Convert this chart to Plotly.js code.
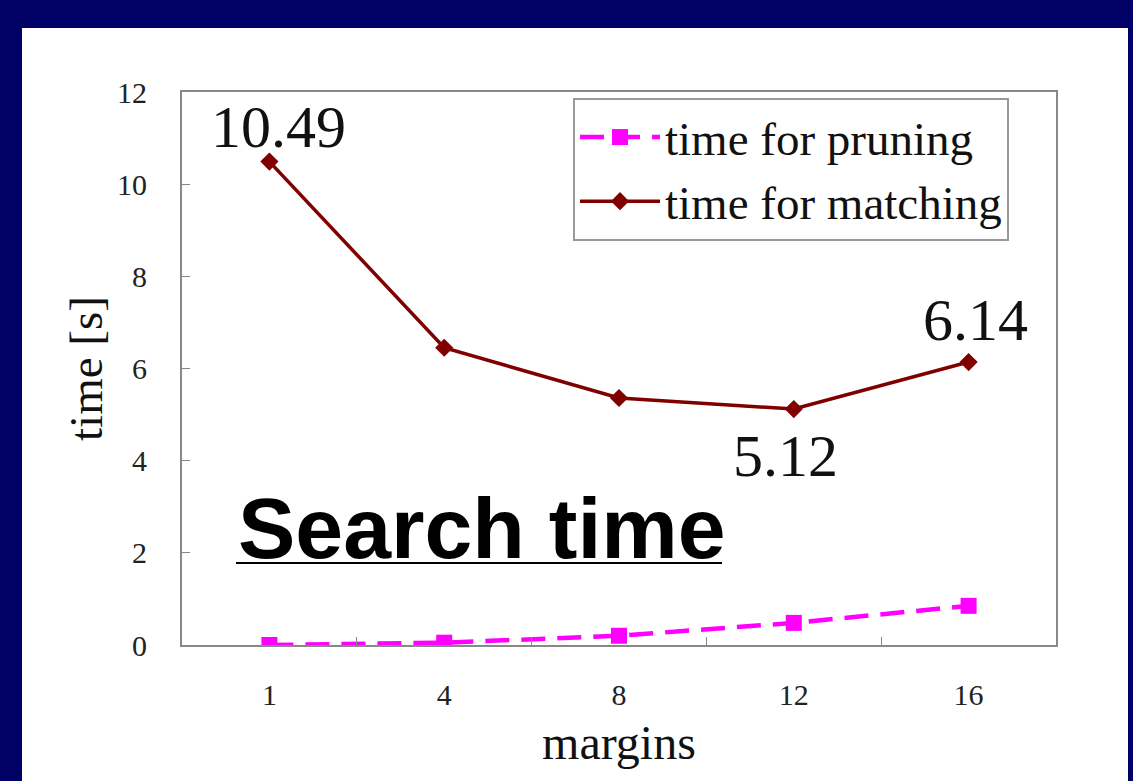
<!DOCTYPE html>
<html>
<head>
<meta charset="utf-8">
<script src="https://cdn.plot.ly/plotly-3.0.1.min.js"></script>
<style>
  html, body { margin: 0; padding: 0; background: #000066; width: 1133px; height: 781px; overflow: hidden; }
  #chart { position: absolute; left: 22px; top: 28px; width: 1106px; height: 753px; background: #ffffff; }
</style>
</head>
<body>
<div id="chart"></div>
<script>
const categories = ['1', '4', '8', '12', '16'];
const pruning = [0.0, 0.05, 0.2, 0.48, 0.85];
const matching = [10.49, 6.45, 5.36, 5.12, 6.14];
const yTickValues = [0, 2, 4, 6, 8, 10, 12];
const seriesNames = ['time for pruning', 'time for matching'];
const xTitle = 'margins';
const yTitle = 'time [s]';
const overlayText = 'Search time';
const labelledPoints = [0, 3, 4];

const serif = 'Liberation Serif, Times New Roman, serif';

const traces = [
  {
    x: categories, y: pruning, name: seriesNames[0], type: 'scatter', mode: 'lines+markers',
    line: { color: '#ff00ff', width: 4.5, dash: '24px,12px' },
    marker: { symbol: 'square', size: 16, color: '#ff00ff' }
  },
  {
    x: categories, y: matching, name: seriesNames[1], type: 'scatter', mode: 'lines+markers',
    line: { color: '#800000', width: 3.5 },
    marker: { symbol: 'diamond', size: 14, color: '#800000' }
  }
];

const labelCfg = {
  0: { xshift: 9, yshift: 0, yanchor: 'bottom' },
  3: { xshift: -8, yshift: -12, yanchor: 'top' },
  4: { xshift: 7, yshift: 7, yanchor: 'bottom' }
};

// category axis: annotation x given as the category index of the labelled point
const annotations = labelledPoints.map(i => ({
  x: categories.indexOf(categories[i]), y: matching[i], xref: 'x', yref: 'y',
  text: matching[i].toFixed(2), showarrow: false,
  xanchor: 'center', yanchor: labelCfg[i].yanchor,
  xshift: labelCfg[i].xshift, yshift: labelCfg[i].yshift,
  font: { family: serif, size: 60, color: '#111111' }
}));

annotations.push({
  x: (236 - 182) / 874, y: (645 - 528) / 553, xref: 'paper', yref: 'paper',
  text: '<b>' + overlayText + '</b>', showarrow: false, xanchor: 'left', yanchor: 'middle',
  font: { family: 'Liberation Sans, Arial, sans-serif', size: 86, color: '#000000' }
});

const layout = {
  width: 1106, height: 753,
  margin: { l: 160, r: 72, t: 64, b: 136, pad: 0 },
  paper_bgcolor: '#ffffff', plot_bgcolor: '#ffffff',
  showlegend: true,
  legend: {
    x: (573 - 182) / 874, y: (645 - 98) / 553, xanchor: 'left', yanchor: 'top',
    bgcolor: '#ffffff', bordercolor: '#999999', borderwidth: 2,
    font: { family: serif, size: 47, color: '#111111' },
    itemwidth: 80, traceorder: 'normal'
  },
  xaxis: {
    type: 'category', range: [-0.5, 4.5], tickson: 'boundaries',
    ticks: 'inside', ticklen: 8, tickcolor: '#888888', tickwidth: 1,
    showgrid: false, zeroline: false,
    showline: true, linecolor: '#888888', linewidth: 2, mirror: true,
    tickfont: { family: serif, size: 30, color: '#222222' },
    ticklabelstandoff: 22,
    automargin: false,
    title: { text: xTitle, font: { family: serif, size: 48, color: '#111111' }, standoff: 15 }
  },
  yaxis: {
    range: [0, 12], tickvals: yTickValues, ticktext: yTickValues.map(String),
    ticks: 'inside', ticklen: 8, tickcolor: '#888888', tickwidth: 1,
    showgrid: false, zeroline: false,
    showline: true, linecolor: '#888888', linewidth: 2, mirror: true,
    tickfont: { family: serif, size: 30, color: '#222222' },
    ticklabelstandoff: 27,
    automargin: false,
    title: { text: yTitle, font: { family: serif, size: 47, color: '#111111' }, standoff: 0 }
  },
  annotations: annotations,
  shapes: [
    { type: 'line', xref: 'paper', yref: 'paper',
      x0: (236 - 182) / 874, x1: (722 - 182) / 874,
      y0: (645 - 563) / 553, y1: (645 - 563) / 553,
      line: { color: '#000000', width: 2 } }
  ]
};

Plotly.newPlot('chart', traces, layout, { displayModeBar: false, staticPlot: true });
</script>
</body>
</html>
